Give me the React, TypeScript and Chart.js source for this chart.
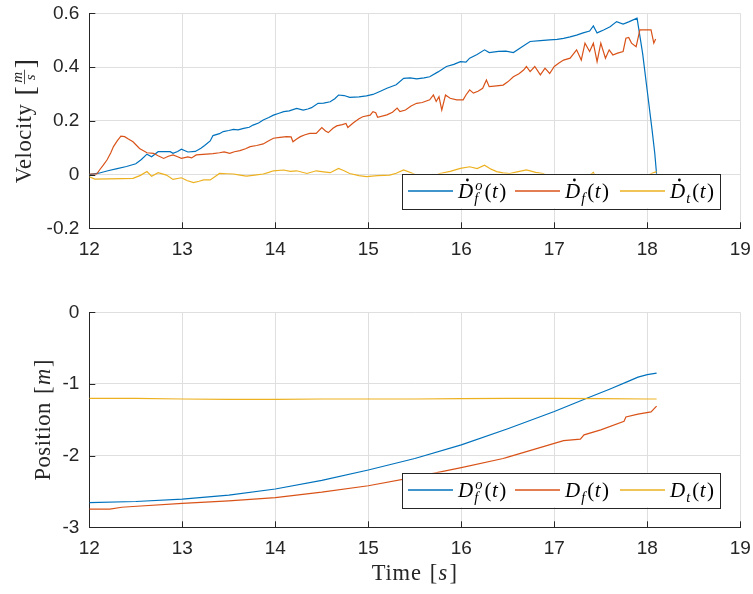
import React, { useEffect, useRef } from 'react';
import { Chart, registerables } from 'chart.js';

Chart.register(...registerables);

// ---- colours & fonts -------------------------------------------------------
const BLUE = '#0072BD';
const RED = '#D95319';
const YELLOW = '#EDB120';
const AXIS = '#262626';
const GRID = '#dfdfdf';
const SANS = '"Liberation Sans", Arial, Helvetica, sans-serif';
const SERIF = '"Liberation Serif", "Times New Roman", serif';

// ---- axes ------------------------------------------------------------------
const timeMin = 12;
const timeMax = 19;
const velTicks = [-0.2, 0, 0.2, 0.4, 0.6];
const posTicks = [-3, -2, -1, 0];

// ---- velocity panel data ----------------------------------------------------
const tVelFo = [12.0, 12.1, 12.2, 12.3, 12.4, 12.5, 12.56, 12.62, 12.67, 12.74, 12.8, 12.87, 12.9, 12.95, 12.99, 13.06, 13.14, 13.2, 13.24, 13.3, 13.33, 13.4, 13.44, 13.5, 13.55, 13.6, 13.66, 13.72, 13.76, 13.82, 13.87, 13.93, 13.98, 14.04, 14.09, 14.15, 14.23, 14.3, 14.35, 14.39, 14.46, 14.52, 14.59, 14.64, 14.68, 14.74, 14.8, 14.9, 14.98, 15.05, 15.13, 15.2, 15.3, 15.38, 15.45, 15.52, 15.6, 15.66, 15.75, 15.84, 15.92, 15.99, 16.05, 16.09, 16.17, 16.25, 16.3, 16.4, 16.48, 16.56, 16.65, 16.74, 16.85, 16.95, 17.03, 17.1, 17.17, 17.24, 17.31, 17.38, 17.42, 17.46, 17.53, 17.6, 17.67, 17.74, 17.8, 17.89, 17.95, 18.0, 18.05, 18.08, 18.1];
const velFo = [0.0, 0.005, 0.014, 0.022, 0.03, 0.04, 0.056, 0.076, 0.066, 0.085, 0.085, 0.085, 0.079, 0.086, 0.094, 0.084, 0.086, 0.098, 0.108, 0.125, 0.145, 0.152, 0.16, 0.164, 0.168, 0.166, 0.172, 0.176, 0.184, 0.192, 0.203, 0.212, 0.221, 0.228, 0.234, 0.237, 0.246, 0.24, 0.244, 0.249, 0.265, 0.266, 0.271, 0.282, 0.296, 0.294, 0.287, 0.289, 0.293, 0.298, 0.31, 0.321, 0.334, 0.358, 0.36, 0.356, 0.36, 0.364, 0.382, 0.402, 0.41, 0.42, 0.418, 0.433, 0.447, 0.464, 0.454, 0.458, 0.459, 0.454, 0.475, 0.495, 0.498, 0.501, 0.503, 0.507, 0.512, 0.519, 0.527, 0.534, 0.553, 0.527, 0.538, 0.55, 0.569, 0.56, 0.568, 0.582, 0.45, 0.31, 0.17, 0.08, 0.0];

const tVelF = [12.0, 12.08, 12.11, 12.15, 12.19, 12.23, 12.26, 12.3, 12.34, 12.38, 12.42, 12.47, 12.54, 12.62, 12.69, 12.74, 12.8, 12.85, 12.9, 12.95, 12.99, 13.06, 13.1, 13.15, 13.26, 13.33, 13.4, 13.45, 13.51, 13.56, 13.62, 13.68, 13.73, 13.8, 13.87, 13.92, 13.98, 14.05, 14.12, 14.17, 14.19, 14.23, 14.27, 14.32, 14.37, 14.44, 14.5, 14.54, 14.57, 14.62, 14.66, 14.72, 14.76, 14.78, 14.84, 14.9, 14.94, 15.02, 15.05, 15.08, 15.1, 15.2, 15.26, 15.31, 15.34, 15.4, 15.46, 15.52, 15.58, 15.66, 15.7, 15.73, 15.76, 15.79, 15.83, 15.88, 15.95, 16.02, 16.05, 16.09, 16.13, 16.18, 16.23, 16.27, 16.3, 16.38, 16.45, 16.5, 16.56, 16.62, 16.67, 16.7, 16.74, 16.79, 16.85, 16.9, 16.95, 17.0, 17.05, 17.1, 17.17, 17.24, 17.29, 17.33, 17.38, 17.42, 17.46, 17.5, 17.55, 17.59, 17.63, 17.68, 17.74, 17.77, 17.8, 17.83, 17.88, 17.92, 17.98, 18.04, 18.07, 18.09];
const velF = [0.002, 0.002, 0.017, 0.035, 0.054, 0.08, 0.104, 0.125, 0.143, 0.141, 0.132, 0.122, 0.097, 0.081, 0.079, 0.07, 0.06, 0.068, 0.073, 0.066, 0.06, 0.066, 0.062, 0.073, 0.076, 0.078, 0.081, 0.084, 0.079, 0.085, 0.089, 0.096, 0.104, 0.108, 0.114, 0.124, 0.135, 0.138, 0.141, 0.14, 0.122, 0.132, 0.141, 0.148, 0.153, 0.153, 0.175, 0.162, 0.156, 0.172, 0.181, 0.186, 0.19, 0.175, 0.193, 0.208, 0.215, 0.221, 0.234, 0.23, 0.213, 0.222, 0.232, 0.247, 0.234, 0.24, 0.255, 0.265, 0.268, 0.278, 0.296, 0.272, 0.29, 0.24, 0.296, 0.284, 0.278, 0.278, 0.296, 0.315, 0.303, 0.31, 0.321, 0.352, 0.327, 0.33, 0.333, 0.345, 0.364, 0.375, 0.389, 0.402, 0.383, 0.402, 0.371, 0.396, 0.376, 0.402, 0.415, 0.426, 0.433, 0.464, 0.426, 0.489, 0.458, 0.489, 0.42, 0.489, 0.433, 0.464, 0.445, 0.452, 0.458, 0.507, 0.51, 0.489, 0.476, 0.538, 0.538, 0.538, 0.489, 0.504];

const tVelT = [12.0, 12.06, 12.2, 12.35, 12.47, 12.55, 12.62, 12.67, 12.74, 12.83, 12.9, 12.99, 13.05, 13.12, 13.18, 13.23, 13.3, 13.35, 13.4, 13.48, 13.55, 13.62, 13.69, 13.78, 13.87, 13.93, 13.98, 14.09, 14.16, 14.23, 14.34, 14.44, 14.52, 14.59, 14.68, 14.74, 14.8, 14.9, 14.98, 15.1, 15.23, 15.3, 15.38, 15.48, 15.55, 15.65, 15.77, 15.88, 15.99, 16.09, 16.17, 16.25, 16.32, 16.38, 16.45, 16.52, 16.6, 16.7, 16.8, 16.88, 16.95, 17.05, 17.2, 17.35, 17.42, 17.45, 17.6, 17.75, 17.9, 18.0, 18.05, 18.1];
const velT = [-0.008, -0.017, -0.016, -0.015, -0.014, -0.003, 0.011, -0.006, 0.007, -0.002, -0.018, -0.012, -0.022, -0.03, -0.025, -0.02, -0.02, -0.008, 0.004, 0.003, 0.002, -0.002, -0.006, -0.002, 0.002, 0.008, 0.014, 0.017, 0.012, 0.014, 0.004, 0.014, 0.01, 0.007, 0.023, 0.014, 0.004, -0.004, -0.008, -0.004, -0.002, 0.005, 0.017, 0.004, -0.01, -0.012, 0.004, 0.012, 0.023, 0.029, 0.022, 0.035, 0.02, 0.011, 0.006, 0.004, 0.01, 0.017, 0.008, 0.004, -0.01, -0.02, -0.015, -0.01, 0.008, -0.01, -0.02, -0.015, -0.01, -0.005, 0.005, 0.011];

// ---- position panel data ----------------------------------------------------
const tPosFo = [12.0, 12.5, 13.0, 13.5, 14.0, 14.5, 15.0, 15.5, 16.0, 16.5, 17.0, 17.35, 17.6, 17.8, 17.9, 18.0, 18.1];
const posFo = [-2.656, -2.64, -2.607, -2.55, -2.466, -2.345, -2.2, -2.04, -1.85, -1.625, -1.385, -1.2, -1.07, -0.96, -0.905, -0.87, -0.85];

const tPosF = [12.0, 12.22, 12.35, 12.47, 13.0, 13.5, 14.0, 14.5, 15.0, 15.5, 16.0, 16.45, 16.5, 17.0, 17.1, 17.28, 17.32, 17.5, 17.75, 17.77, 17.9, 18.04, 18.1];
const posF = [-2.745, -2.745, -2.72, -2.71, -2.667, -2.63, -2.585, -2.51, -2.42, -2.3, -2.167, -2.04, -2.02, -1.83, -1.79, -1.77, -1.71, -1.64, -1.52, -1.46, -1.42, -1.39, -1.31];

const tPosT = [12.0, 12.5, 13.0, 13.5, 14.0, 14.5, 15.0, 15.5, 16.0, 16.5, 17.0, 17.5, 18.0, 18.1];
const posT = [-1.2, -1.2, -1.21, -1.215, -1.215, -1.21, -1.21, -1.21, -1.205, -1.2, -1.2, -1.205, -1.21, -1.21];

// ---- layout (pixels within the 753 x 594 page) ------------------------------
const PAGE_W = 753;
const PLOT_LEFT = 89.3;
const PLOT_RIGHT = 740.3;

const toPoints = (t: number[], v: number[]) => t.map((x, i) => ({ x, y: v[i] }));

// ---- small typesetting helpers ---------------------------------------------
type Ctx = CanvasRenderingContext2D;

function textW(ctx: Ctx, font: string, s: string) {
  ctx.font = font;
  return ctx.measureText(s).width;
}

// Draws D, optional dot, sub/superscripts and "(t)".
function drawMathLabel(ctx: Ctx, x: number, y: number, opts: { dot: boolean; sub: string; sup?: string }) {
  const big = `italic 21px ${SERIF}`;
  const up = `21px ${SERIF}`;
  const small = `italic 14.5px ${SERIF}`;
  let cx = x;
  const wD = textW(ctx, big, 'D');
  ctx.font = big;
  ctx.fillText('D', cx, y);
  if (opts.dot) {
    ctx.beginPath();
    ctx.arc(cx + wD * 0.62, y - 17.5, 1.4, 0, Math.PI * 2);
    ctx.fill();
  }
  cx += wD;
  const wSub = textW(ctx, small, opts.sub);
  const wSup = opts.sup ? textW(ctx, small, opts.sup) : 0;
  ctx.font = small;
  ctx.fillText(opts.sub, cx + 1, y + 5);
  if (opts.sup) ctx.fillText(opts.sup, cx + 2, y - 8);
  cx += Math.max(wSub + 1, wSup + 2) + 2;
  const parts: [string, string][] = [['(', up], ['t', big], [')', up]];
  for (const [s, f] of parts) {
    ctx.font = f;
    ctx.fillText(s, cx, y);
    cx += ctx.measureText(s).width + (s === 't' ? 1.5 : 0.5);
  }
}

// Legend box anchored near the lower-right corner of the plot area.
const LEGEND_W = 317.7;
const LEGEND_H = 34.6;
const LEGEND_ITEM_X = [5.7, 112.7, 217.7];
const LEGEND_LINE = 45;

function drawLegend(ctx: Ctx, area: { right: number; bottom: number }, kind: 'vel' | 'pos') {
  const items = [
    { color: BLUE, opts: { dot: kind === 'vel', sub: 'f', sup: 'o' } },
    { color: RED, opts: { dot: kind === 'vel', sub: 'f' } },
    { color: YELLOW, opts: { dot: kind === 'vel', sub: 't' } },
  ];
  const right = area.right - 20.3;
  const bottom = area.bottom - 20;
  const left = right - LEGEND_W;
  const top = bottom - LEGEND_H;
  ctx.save();
  ctx.fillStyle = '#ffffff';
  ctx.fillRect(left, top, LEGEND_W, LEGEND_H);
  ctx.strokeStyle = AXIS;
  ctx.lineWidth = 1;
  ctx.strokeRect(Math.round(left) + 0.5, Math.round(top) + 0.5, Math.round(LEGEND_W), Math.round(LEGEND_H));
  const midY = top + LEGEND_H / 2;
  items.forEach((it, i) => {
    const x = left + LEGEND_ITEM_X[i];
    ctx.strokeStyle = it.color;
    ctx.lineWidth = 1.3;
    ctx.beginPath();
    ctx.moveTo(x, midY);
    ctx.lineTo(x + LEGEND_LINE, midY);
    ctx.stroke();
    ctx.fillStyle = '#000000';
    ctx.textBaseline = 'alphabetic';
    ctx.textAlign = 'left';
    drawMathLabel(ctx, x + LEGEND_LINE + 5, midY + 6.5, it.opts);
  });
  ctx.restore();
}

function drawInwardTicks(chart: any) {
  const { ctx, chartArea } = chart;
  const xs = chart.scales.x;
  const ys = chart.scales.y;
  ctx.save();
  ctx.strokeStyle = AXIS;
  ctx.lineWidth = 1;
  ctx.beginPath();
  xs.ticks.forEach((t: any) => {
    const px = Math.round(xs.getPixelForValue(t.value)) + 0.5;
    ctx.moveTo(px, chartArea.bottom);
    ctx.lineTo(px, chartArea.bottom - 6);
  });
  ys.ticks.forEach((t: any) => {
    const py = Math.round(ys.getPixelForValue(t.value)) + 0.5;
    ctx.moveTo(chartArea.left, py);
    ctx.lineTo(chartArea.left + 6, py);
  });
  ctx.stroke();
  ctx.restore();
}

// Vertical axis title: plain word followed by a bracketed unit.
function drawYTitle(ctx: Ctx, baseX: number, centerY: number, word: string, unit: 'frac' | 'm') {
  const wordFont = `22.5px ${SERIF}`;
  const brFont = unit === 'frac' ? `28px ${SERIF}` : `22.5px ${SERIF}`;
  const itFont = `italic 22.5px ${SERIF}`;
  const fracFont = `italic 15px ${SERIF}`;
  ctx.save();
  (ctx as any).letterSpacing = '0.6px';
  const wWord = textW(ctx, wordFont, word);
  const wSpace = 8;
  const wBr = textW(ctx, brFont, '[');
  let wUnit: number;
  if (unit === 'frac') {
    wUnit = Math.max(textW(ctx, fracFont, 'm'), textW(ctx, fracFont, 's')) + 6;
  } else {
    wUnit = textW(ctx, itFont, 'm') + 2;
  }
  const total = wWord + wSpace + wBr * 2 + wUnit;
  ctx.translate(baseX, centerY);
  ctx.rotate(-Math.PI / 2);
  ctx.fillStyle = AXIS;
  ctx.strokeStyle = AXIS;
  ctx.textBaseline = 'alphabetic';
  ctx.textAlign = 'left';
  let x = -total / 2;
  ctx.font = wordFont;
  ctx.fillText(word, x, 0);
  x += wWord + wSpace;
  ctx.font = brFont;
  const brDy = unit === 'frac' ? 2.5 : 0;
  ctx.fillText('[', x, brDy);
  x += wBr;
  if (unit === 'frac') {
    const axisY = -6.5;
    ctx.font = fracFont;
    const wm = ctx.measureText('m').width;
    const ws = ctx.measureText('s').width;
    ctx.fillText('m', x + (wUnit - wm) / 2, axisY - 3);
    ctx.fillText('s', x + (wUnit - ws) / 2, axisY + 10.5);
    ctx.lineWidth = 0.8;
    ctx.beginPath();
    ctx.moveTo(x + 1.5, axisY);
    ctx.lineTo(x + wUnit - 1.5, axisY);
    ctx.stroke();
  } else {
    ctx.font = itFont;
    ctx.fillText('m', x + 1, 0);
  }
  x += wUnit;
  ctx.font = brFont;
  ctx.fillText(']', x, brDy);
  ctx.restore();
}

function drawTimeTitle(ctx: Ctx, centerX: number, baseY: number) {
  const up = `22.5px ${SERIF}`;
  const it = `italic 22.5px ${SERIF}`;
  ctx.save();
  (ctx as any).letterSpacing = '0.8px';
  const parts: [string, string, number][] = [['Time', up, 8], ['[', up, 0.5], ['s', it, 1.5], [']', up, 0]];
  const total = parts.reduce((a, [s, f, g]) => a + textW(ctx, f, s) + g, 0);
  ctx.fillStyle = AXIS;
  ctx.textBaseline = 'alphabetic';
  ctx.textAlign = 'left';
  let x = centerX - total / 2;
  for (const [s, f, g] of parts) {
    ctx.font = f;
    ctx.fillText(s, x, baseY);
    x += ctx.measureText(s).width + g;
  }
  ctx.restore();
}

// ---- chart configuration -----------------------------------------------------
interface PanelSpec {
  height: number;
  areaTop: number;
  areaBottom: number;
  yMin: number;
  yMax: number;
  yTicks: number[];
  series: { label: string; data: { x: number; y: number }[]; color: string; order: number }[];
  kind: 'vel' | 'pos';
  pageTop: number;
  // layout corrections found after the first pass
  adj: { xHeight: number; yWidth: number };
}

// Tick labels may overhang the plot edges; the explicit layout padding
// already leaves room for them, so the scales report no extra padding.
function clearScalePadding(s: any) {
  s.paddingTop = 0;
  s.paddingBottom = 0;
  s.paddingLeft = 0;
  s.paddingRight = 0;
}

function makeConfig(p: PanelSpec): any {
  const fmt = (v: number) => String(Math.round(v * 10) / 10);
  const tickFont = { family: SANS, size: 19 };
  return {
    type: 'line',
    data: {
      datasets: p.series.map((s) => ({
        label: s.label,
        data: s.data,
        borderColor: s.color,
        backgroundColor: s.color,
        borderWidth: 1.2,
        pointRadius: 0,
        tension: 0,
        fill: false,
        order: s.order,
      })),
    },
    options: {
      animation: false,
      responsive: true,
      maintainAspectRatio: false,
      layout: {
        autoPadding: false,
        padding: { left: 0, top: p.areaTop, right: PAGE_W - PLOT_RIGHT, bottom: 0 },
      },
      plugins: {
        legend: { display: false },
        tooltip: { enabled: false },
      },
      scales: {
        x: {
          type: 'linear',
          min: timeMin,
          max: timeMax,
          afterFit: (s: any) => {
            s.height = p.height - p.areaBottom + p.adj.xHeight;
            clearScalePadding(s);
          },
          afterBuildTicks: (s: any) => {
            const t = [];
            for (let v = timeMin; v <= timeMax; v++) t.push({ value: v });
            s.ticks = t;
          },
          ticks: { font: tickFont, color: AXIS, padding: 10, maxRotation: 0, callback: (v: number) => fmt(v) },
          grid: { color: GRID, drawTicks: false, lineWidth: 1 },
          border: { color: AXIS, width: 1 },
        },
        y: {
          type: 'linear',
          min: p.yMin,
          max: p.yMax,
          afterFit: (s: any) => {
            s.width = PLOT_LEFT + p.adj.yWidth;
            clearScalePadding(s);
          },
          afterBuildTicks: (s: any) => { s.ticks = p.yTicks.map((value) => ({ value })); },
          ticks: { font: tickFont, color: AXIS, padding: 10, callback: (v: number) => fmt(v) },
          grid: { color: GRID, drawTicks: false, lineWidth: 1 },
          border: { color: AXIS, width: 1 },
        },
      },
    },
    plugins: [
      {
        id: 'panelDecor',
        beforeDatasetsDraw(chart: any) {
          drawInwardTicks(chart);
        },
        afterDatasetsDraw(chart: any) {
          drawLegend(chart.ctx, chart.chartArea, p.kind);
        },
        afterDraw(chart: any) {
          const ctx = chart.ctx as Ctx;
          const a = chart.chartArea;
          const cy = (a.top + a.bottom) / 2;
          if (p.kind === 'vel') {
            drawYTitle(ctx, 31, cy, 'Velocity', 'frac');
          } else {
            drawYTitle(ctx, 50, cy, 'Position', 'm');
            drawTimeTitle(ctx, (a.left + a.right) / 2, 579.5 - p.pageTop);
          }
        },
      },
    ],
  };
}

// Nudge the padding so the plot area lands on the intended rectangle.
function settleArea(chart: any, p: PanelSpec) {
  for (let i = 0; i < 3; i++) {
    const a = chart.chartArea;
    if (!a) break;
    const pad = chart.config.options.layout.padding;
    const dTop = a.top - p.areaTop;
    const dRight = a.right - PLOT_RIGHT;
    const dBottom = a.bottom - p.areaBottom;
    const dLeft = a.left - PLOT_LEFT;
    if (Math.abs(dTop) + Math.abs(dRight) + Math.abs(dBottom) + Math.abs(dLeft) < 0.05) break;
    pad.top = Math.max(0, pad.top - dTop);
    pad.right = Math.max(0, pad.right + dRight);
    p.adj.xHeight += dBottom;
    p.adj.yWidth -= dLeft;
    chart.update();
  }
}

export default function App() {
  const topRef = useRef<HTMLCanvasElement>(null);
  const botRef = useRef<HTMLCanvasElement>(null);

  useEffect(() => {
    const velSpec: PanelSpec = {
      height: 290,
      pageTop: 0,
      areaTop: 13.3,
      areaBottom: 228.3,
      yMin: -0.2,
      yMax: 0.6,
      yTicks: velTicks,
      kind: 'vel',
      adj: { xHeight: 0, yWidth: 0 },
      series: [
        { label: 'Ḋfo(t)', data: toPoints(tVelFo, velFo), color: BLUE, order: 2 },
        { label: 'Ḋf(t)', data: toPoints(tVelF, velF), color: RED, order: 1 },
        { label: 'Ḋt(t)', data: toPoints(tVelT, velT), color: YELLOW, order: 0 },
      ],
    };
    const posSpec: PanelSpec = {
      height: 304,
      pageTop: 290,
      areaTop: 22.3,
      areaBottom: 237.3,
      yMin: -3,
      yMax: 0,
      yTicks: posTicks,
      kind: 'pos',
      adj: { xHeight: 0, yWidth: 0 },
      series: [
        { label: 'Dfo(t)', data: toPoints(tPosFo, posFo), color: BLUE, order: 2 },
        { label: 'Df(t)', data: toPoints(tPosF, posF), color: RED, order: 1 },
        { label: 'Dt(t)', data: toPoints(tPosT, posT), color: YELLOW, order: 0 },
      ],
    };
    const velChart = new Chart(topRef.current as HTMLCanvasElement, makeConfig(velSpec));
    const posChart = new Chart(botRef.current as HTMLCanvasElement, makeConfig(posSpec));
    settleArea(velChart, velSpec);
    settleArea(posChart, posSpec);
    return () => {
      velChart.destroy();
      posChart.destroy();
    };
  }, []);

  return (
    <div style={{ position: 'absolute', left: 0, top: 0, width: PAGE_W, height: 594, background: '#ffffff' }}>
      <div style={{ position: 'absolute', left: 0, top: 0, width: PAGE_W, height: 290 }}>
        <canvas ref={topRef} />
      </div>
      <div style={{ position: 'absolute', left: 0, top: 290, width: PAGE_W, height: 304 }}>
        <canvas ref={botRef} />
      </div>
    </div>
  );
}
